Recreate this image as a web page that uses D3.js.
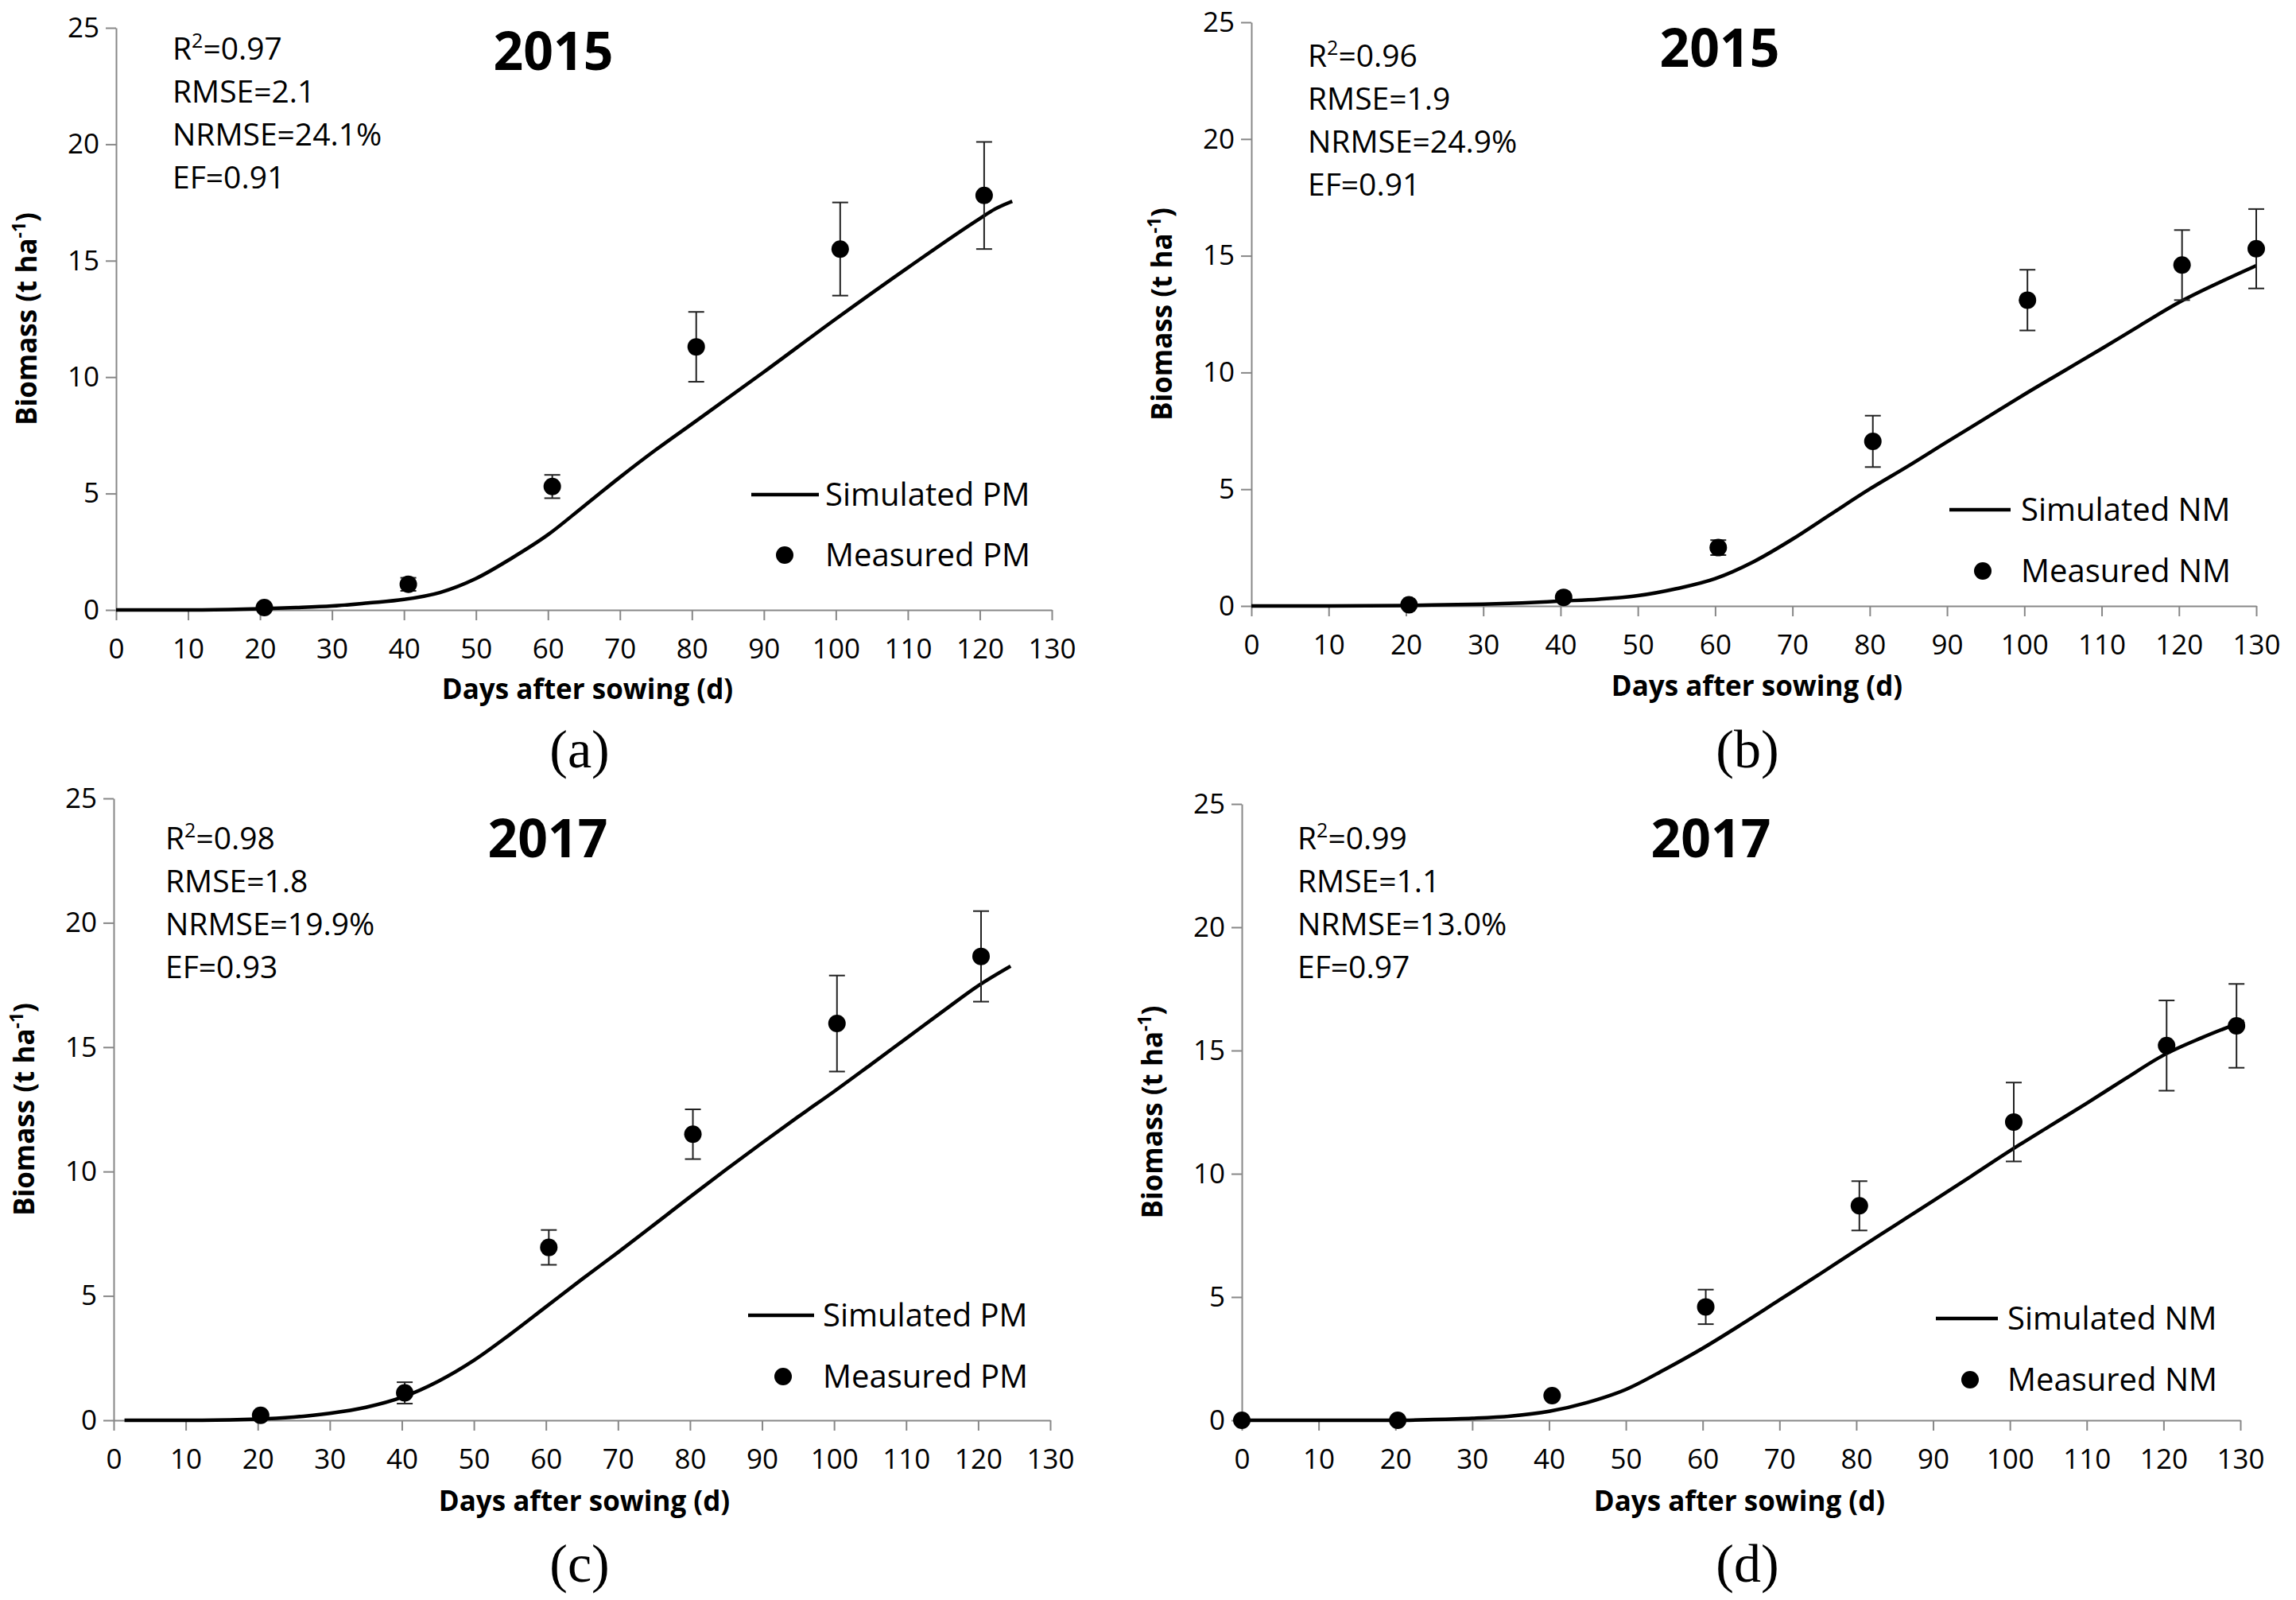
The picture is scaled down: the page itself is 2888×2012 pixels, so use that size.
<!DOCTYPE html>
<html>
<head>
<meta charset="utf-8">
<script src="https://cdn.jsdelivr.net/npm/d3@7"></script>
<style>
  body { margin: 0; background: #fff; }
  text { font-family: 'Open Sans', sans-serif; }
</style>
</head>
<body>
<div id="chart"></div>
<script>
// values (days after sowing, biomass t/ha)

// (a) 2015 PM
const simDaysA = [0, 10, 20, 25, 30, 35, 40, 45, 50, 55, 60, 65, 70, 75, 80, 90, 100, 110, 120, 122, 124.5];
const simA = [0, 0, 0.05, 0.1, 0.17, 0.3, 0.45, 0.75, 1.35, 2.23, 3.23, 4.46, 5.7, 6.88, 7.99, 10.22, 12.5, 14.7, 16.81, 17.2, 17.55];
const obsDaysA = [20.6, 40.6, 60.6, 80.6, 100.6, 120.6];
const obsA = [0.1, 1.1, 5.3, 11.3, 15.5, 17.8];
const errA = [0, 0.28, 0.5, 1.5, 2.0, 2.3];
const statsA = ['0.97', '2.1', '24.1%', '0.91'];

// (b) 2015 NM
const simDaysB = [0, 10, 20, 25, 30, 35, 40, 45, 50, 55, 60, 65, 70, 75, 80, 85, 90, 95, 100, 105, 110, 115, 120, 125, 130];
const simB = [0, 0, 0.02, 0.05, 0.08, 0.13, 0.21, 0.29, 0.44, 0.74, 1.17, 1.9, 2.86, 3.94, 5.01, 6.0, 7.03, 8.04, 9.06, 10.04, 11.02, 12.02, 13.0, 13.82, 14.58];
const obsDaysB = [20.4, 40.4, 60.4, 80.4, 100.4, 120.4, 130];
const obsB = [0.05, 0.37, 2.5, 7.05, 13.1, 14.6, 15.3];
const errB = [0, 0.1, 0.32, 1.1, 1.3, 1.5, 1.7];
const statsB = ['0.96', '1.9', '24.9%', '0.91'];

// (c) 2017 PM
const simDaysC = [1.5, 10, 20, 25, 30, 35, 40, 45, 50, 55, 60, 65, 70, 75, 80, 85, 90, 95, 100, 105, 110, 115, 120, 124.5];
const simC = [0, 0, 0.05, 0.13, 0.28, 0.52, 0.92, 1.56, 2.41, 3.45, 4.56, 5.67, 6.75, 7.86, 8.98, 10.08, 11.15, 12.2, 13.22, 14.28, 15.35, 16.42, 17.47, 18.26];
const obsDaysC = [20.4, 40.4, 60.4, 80.4, 100.4, 120.4];
const obsC = [0.2, 1.1, 6.95, 11.5, 15.95, 18.65];
const errC = [0, 0.43, 0.7, 1.0, 1.93, 1.82];
const statsC = ['0.98', '1.8', '19.9%', '0.93'];

// (d) 2017 NM
const simDaysD = [0, 10, 20, 25, 30, 35, 40, 45, 50, 55, 60, 65, 70, 75, 80, 85, 90, 95, 100, 105, 110, 115, 120, 125, 130.5];
const simD = [0, 0, 0, 0.03, 0.08, 0.17, 0.36, 0.72, 1.25, 2.05, 2.92, 3.88, 4.88, 5.88, 6.9, 7.9, 8.9, 9.91, 10.93, 11.9, 12.86, 13.85, 14.81, 15.52, 16.2];
const obsDaysD = [0, 20.3, 40.4, 60.4, 80.4, 100.5, 120.4, 129.5];
const obsD = [0, 0, 1.0, 4.6, 8.7, 12.1, 15.2, 16.0];
const errD = [0, 0, 0, 0.7, 1.0, 1.6, 1.83, 1.7];
const statsD = ['0.99', '1.1', '13.0%', '0.97'];

const xTicks = d3.range(0, 131, 10);
const yTicks = [0, 5, 10, 15, 20, 25];
const statNames = ['R', 'RMSE=', 'NRMSE=', 'EF='];

const svg = d3.select('#chart').append('svg')
    .attr('width', 2888)
    .attr('height', 2012);

// panel layout (pixels)
const panels = [
  { x0: 146, x1: 1323, y0: 767, y1: 35, days: simDaysA, sim: simA, od: obsDaysA, obs: obsA, err: errA, stats: statsA,
    year: '2015', tag: '(a)', trt: 'PM',
    sx: 217, sy: 75, tx: 696, ty: 88, lx: 945, lx2: 1030, ly: 622, ltx: 1038, dx: 987, dy: 698, xt: 739, xty: 879, tagx: 729, tagy: 965 },
  { x0: 1574, x1: 2838, y0: 762, y1: 28, days: simDaysB, sim: simB, od: obsDaysB, obs: obsB, err: errB, stats: statsB,
    year: '2015', tag: '(b)', trt: 'NM',
    sx: 1645, sy: 84, tx: 2163, ty: 84, lx: 2452, lx2: 2529, ly: 641, ltx: 2542, dx: 2494, dy: 718, xt: 2210, xty: 875, tagx: 2198, tagy: 965 },
  { x0: 143, x1: 1321, y0: 1786, y1: 1004, days: simDaysC, sim: simC, od: obsDaysC, obs: obsC, err: errC, stats: statsC,
    year: '2017', tag: '(c)', trt: 'PM',
    sx: 208, sy: 1068, tx: 689, ty: 1078, lx: 941, lx2: 1024, ly: 1654, ltx: 1035, dx: 985, dy: 1731, xt: 735, xty: 1900, tagx: 729, tagy: 1989 },
  { x0: 1562, x1: 2818, y0: 1786, y1: 1011, days: simDaysD, sim: simD, od: obsDaysD, obs: obsD, err: errD, stats: statsD,
    year: '2017', tag: '(d)', trt: 'NM',
    sx: 1632, sy: 1068, tx: 2152, ty: 1078, lx: 2435, lx2: 2513, ly: 1658, ltx: 2525, dx: 2478, dy: 1735, xt: 2188, xty: 1900, tagx: 2198, tagy: 1989 }
];

panels.forEach(p => {
  const x = d3.scaleLinear().domain([0, 130]).range([p.x0, p.x1]);
  const y = d3.scaleLinear().domain([0, 25]).range([p.y0, p.y1]);
  const g = svg.append('g');

  // axes
  const gx = g.append('g')
      .attr('transform', `translate(0,${p.y0})`)
      .call(d3.axisBottom(x).tickValues(xTicks).tickSize(13).tickSizeOuter(0).tickPadding(23));
  const gy = g.append('g')
      .attr('transform', `translate(${p.x0},0)`)
      .call(d3.axisLeft(y).tickValues(yTicks).tickSize(13).tickSizeOuter(0).tickPadding(8));
  [gx, gy].forEach(a => {
    a.selectAll('path, line').attr('stroke', '#878787').attr('stroke-width', 2);
    a.selectAll('text').attr('font-size', 35).attr('fill', '#000')
      .style('font-family', "'Open Sans', sans-serif");
  });

  // simulated curve
  const line = d3.line()
      .x((d, i) => x(p.days[i]))
      .y(d => y(d))
      .curve(d3.curveMonotoneX);
  g.append('path')
      .attr('d', line(p.sim))
      .attr('fill', 'none')
      .attr('stroke', '#000')
      .attr('stroke-width', 4.5);

  // error bars
  const obs = p.obs.map((v, i) => ({ d: p.od[i], v: v, e: p.err[i] }));
  const eb = g.selectAll('.eb').data(obs.filter(o => o.e > 0.15)).enter().append('g')
      .attr('stroke', '#222').attr('stroke-width', 2);
  eb.append('line')
      .attr('x1', o => x(o.d)).attr('x2', o => x(o.d))
      .attr('y1', o => y(o.v - o.e)).attr('y2', o => y(o.v + o.e));
  eb.append('line')
      .attr('x1', o => x(o.d) - 10).attr('x2', o => x(o.d) + 10)
      .attr('y1', o => y(o.v + o.e)).attr('y2', o => y(o.v + o.e));
  eb.append('line')
      .attr('x1', o => x(o.d) - 10).attr('x2', o => x(o.d) + 10)
      .attr('y1', o => y(o.v - o.e)).attr('y2', o => y(o.v - o.e));

  // measured points
  g.selectAll('.pt').data(obs).enter().append('circle')
      .attr('cx', o => x(o.d))
      .attr('cy', o => y(o.v))
      .attr('r', 11)
      .attr('fill', '#000');

  // stats block
  p.stats.forEach((s, i) => {
    const t = g.append('text')
        .attr('x', p.sx).attr('y', p.sy + i * 54)
        .attr('font-size', 39);
    if (i === 0) {
      t.append('tspan').text('R');
      t.append('tspan').text('2').attr('font-size', 25).attr('dy', -15);
      t.append('tspan').text('=' + s).attr('dy', 15);
    } else {
      t.text(statNames[i] + s);
    }
  });

  // year
  g.append('text')
      .attr('x', p.tx).attr('y', p.ty)
      .attr('text-anchor', 'middle')
      .attr('font-size', 66)
      .attr('font-weight', 'bold')
      .text(p.year);

  // legend
  g.append('line')
      .attr('x1', p.lx).attr('x2', p.lx2)
      .attr('y1', p.ly).attr('y2', p.ly)
      .attr('stroke', '#000').attr('stroke-width', 4.5);
  g.append('text')
      .attr('x', p.ltx).attr('y', p.ly + 14)
      .attr('font-size', 40)
      .text('Simulated ' + p.trt);
  g.append('circle')
      .attr('cx', p.dx).attr('cy', p.dy).attr('r', 11).attr('fill', '#000');
  g.append('text')
      .attr('x', p.ltx).attr('y', p.dy + 14)
      .attr('font-size', 40)
      .text('Measured ' + p.trt);

  // axis titles
  g.append('text')
      .attr('x', p.xt).attr('y', p.xty)
      .attr('text-anchor', 'middle')
      .attr('font-size', 35)
      .attr('font-weight', 'bold')
      .text('Days after sowing (d)');
  const yt = g.append('text')
      .attr('transform', `translate(${p.x0 - 100},${(p.y0 + p.y1) / 2}) rotate(-90)`)
      .attr('text-anchor', 'middle')
      .attr('font-size', 35)
      .attr('font-weight', 'bold');
  yt.append('tspan').text('Biomass (t ha');
  yt.append('tspan').text('-1').attr('font-size', 23).attr('dy', -14);
  yt.append('tspan').text(')').attr('dy', 14);

  // panel tag
  g.append('text')
      .attr('x', p.tagx).attr('y', p.tagy)
      .attr('text-anchor', 'middle')
      .attr('font-size', 68)
      .style('font-family', "'Liberation Serif', 'DejaVu Serif', serif")
      .text(p.tag);
});
</script>
</body>
</html>
